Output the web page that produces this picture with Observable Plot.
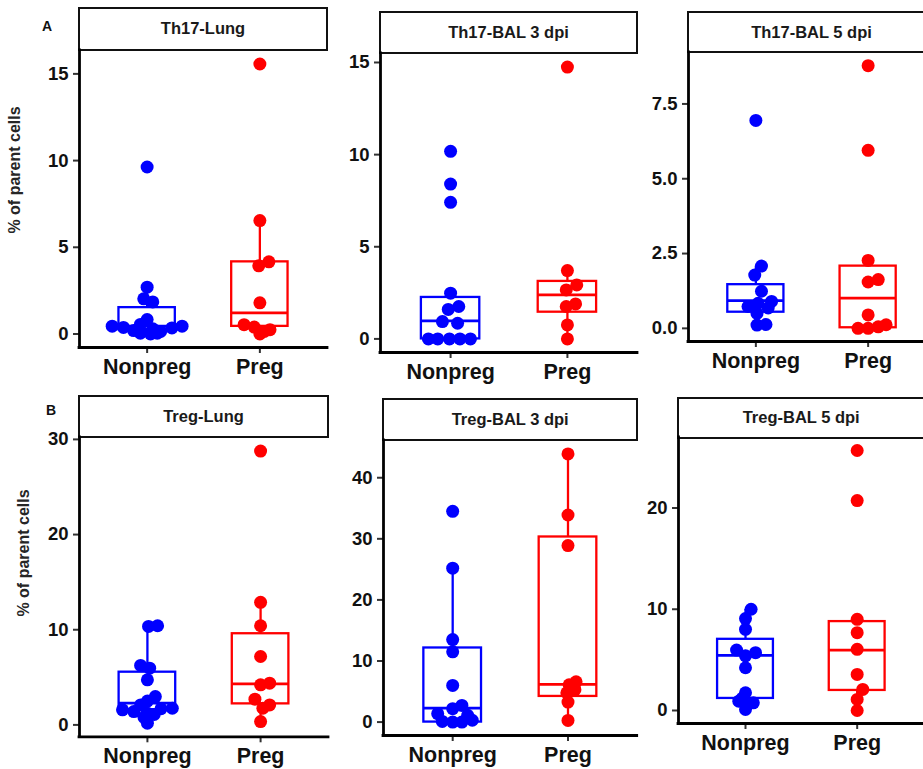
<!DOCTYPE html>
<html><head><meta charset="utf-8">
<script src="https://cdn.jsdelivr.net/npm/d3@7"></script>
<script src="https://cdn.jsdelivr.net/npm/@observablehq/plot@0.6"></script>
<style>
body{margin:0;background:#fff;}
#root{position:relative;width:923px;height:769px;overflow:hidden;font-family:"Liberation Sans",Arial,sans-serif;background:#fff;}
.strip{position:absolute;box-sizing:border-box;border:2.6px solid #111;background:#fff;display:flex;align-items:center;justify-content:center;font-weight:bold;font-size:16.5px;color:#1a1a1a;}
.panel{position:absolute;}
.ytitle{position:absolute;transform:translate(-50%,-50%) rotate(-90deg);white-space:nowrap;font-weight:bold;font-size:16px;color:#262626;}
.tag{position:absolute;transform:translate(-50%,-50%);font-weight:bold;font-size:14px;color:#111;}
</style></head>
<body><div id="root"></div>
<script>
const groups = ["Nonpreg", "Preg"];
const groupColors = ["#0000FF", "#FF0000"];

// Th17-Lung
const th17LungNonpreg    = [9.63, 2.70, 2.03, 1.85, 0.83, 0.55, 0.45, 0.45, 0.38, 0.35, 0.20, 0.15, 0.05, 0.00, 0.05, 0.30];
const th17LungNonpregJit = [0, 0, -0.03, 0.05, 0, -0.06, -0.31, 0.31, -0.21, 0.22, -0.12, 0.12, -0.06, 0.03, 0.09, 0.05];
const th17LungNonpregBox = [0, 0.25, 0.45, 1.52, 2.70];
const th17LungPreg       = [15.57, 6.54, 4.16, 3.93, 1.80, 0.54, 0.40, 0.25, 0.15, 0.00];
const th17LungPregJit    = [0, 0, 0.08, -0.01, 0, -0.14, -0.05, 0.09, 0.04, 0];
const th17LungPregBox    = [0, 0.44, 1.22, 4.16, 6.54];

// Th17-BAL 3 dpi
const th17Bal3Nonpreg    = [10.18, 8.40, 7.41, 2.48, 1.76, 1.60, 0.94, 0.85, 0, 0, 0, 0, 0];
const th17Bal3NonpregJit = [0, 0, 0, 0, 0.07, -0.02, -0.07, 0.06, -0.19, -0.11, -0.01, 0.08, 0.17];
const th17Bal3NonpregBox = [0, 0, 0.98, 2.25, 2.48];
const th17Bal3Preg       = [14.75, 3.71, 2.93, 2.66, 1.90, 1.76, 0.76, 0];
const th17Bal3PregJit    = [0, 0, 0.08, -0.01, 0.07, -0.01, 0, 0];
const th17Bal3PregBox    = [0, 1.45, 2.39, 3.12, 3.71];

// Th17-BAL 5 dpi
const th17Bal5Nonpreg    = [6.95, 2.08, 1.78, 1.24, 0.90, 0.84, 0.73, 0.68, 0.50, 0.11, 0.13];
const th17Bal5NonpregJit = [0, 0.05, -0.01, 0.05, 0.14, 0.02, -0.07, 0.11, 0.01, 0.01, 0.09];
const th17Bal5NonpregBox = [0.11, 0.54, 0.93, 1.46, 2.08];
const th17Bal5Preg       = [8.78, 5.95, 2.27, 1.63, 1.55, 0.45, 0.12, 0.05, 0.00, 0.00];
const th17Bal5PregJit    = [0, 0, 0, 0.09, 0, 0, 0.16, 0.09, 0, -0.09];
const th17Bal5PregBox    = [0, 0.02, 1.01, 2.08, 2.27];

// Treg-Lung
const tregLungNonpreg    = [10.42, 10.35, 6.25, 5.96, 4.74, 2.98, 2.50, 2.10, 1.75, 1.70, 1.58, 1.40, 1.23, 1.10, 0.80, 0.18];
const tregLungNonpregJit = [0.09, 0.01, -0.06, 0.02, 0, 0.07, 0, -0.06, 0.22, 0.12, -0.22, -0.12, 0, 0.06, -0.03, 0];
const tregLungNonpregBox = [0.18, 1.60, 2.28, 5.54, 10.42];
const tregLungPreg       = [28.77, 12.88, 10.42, 7.19, 4.39, 4.21, 2.70, 2.10, 1.75, 0.35];
const tregLungPregJit    = [0, 0, 0, 0, 0.08, 0, -0.05, 0.08, 0.02, 0];
const tregLungPregBox    = [0.35, 2.21, 4.32, 9.58, 12.88];

// Treg-BAL 3 dpi
const tregBal3Nonpreg    = [34.5, 25.2, 13.5, 11.5, 6.0, 2.73, 2.19, 1.37, 1.1, 0.3, 0.1, 0.0, 0.0];
const tregBal3NonpregJit = [0, 0, 0, 0, 0, 0.08, 0, -0.13, 0.13, 0.17, -0.09, 0, 0.08];
const tregBal3NonpregBox = [0, 0, 2.3, 12.13, 25.2];
const tregBal3Preg       = [43.9, 33.9, 28.9, 6.6, 6.1, 5.3, 4.8, 3.28, 0.27];
const tregBal3PregJit    = [0, 0, 0, 0.07, 0.01, 0.06, -0.01, 0, 0];
const tregBal3PregBox    = [0.27, 4.2, 6.17, 30.3, 43.9];

// Treg-BAL 5 dpi
const tregBal5Nonpreg    = [10.0, 9.08, 8.02, 5.97, 5.71, 5.4, 4.22, 1.75, 1.2, 0.92, 0.76, 0.5, 0.1];
const tregBal5NonpregJit = [0.05, 0, 0, -0.08, 0.09, 0, 0, 0, -0.03, -0.06, 0.07, 0.01, 0];
const tregBal5NonpregBox = [0.1, 1.19, 5.45, 7.03, 10.0];
const tregBal5Preg       = [25.68, 20.73, 9.0, 7.69, 6.04, 3.56, 2.08, 1.09, 0.0];
const tregBal5PregJit    = [0, 0, 0, 0, 0, 0, 0.05, 0, 0];
const tregBal5PregBox    = [0, 1.98, 5.97, 8.78, 9.0];

// tick values per panel
const th17LungTicks = [0, 5, 10, 15];
const th17Bal3Ticks = [0, 5, 10, 15];
const th17Bal5Ticks = [0, 2.5, 5, 7.5];
const tregLungTicks = [0, 10, 20, 30];
const tregBal3Ticks = [0, 10, 20, 30, 40];
const tregBal5Ticks = [0, 10, 20];

const titles = ["Th17-Lung", "Th17-BAL 3 dpi", "Th17-BAL 5 dpi", "Treg-Lung", "Treg-BAL 3 dpi", "Treg-BAL 5 dpi"];
const yTitle = "% of parent cells";

const panels = [
  {title: titles[0], vals: [th17LungNonpreg, th17LungPreg], jit: [th17LungNonpregJit, th17LungPregJit], box: [th17LungNonpregBox, th17LungPregBox], ticks: th17LungTicks, fmt: d3.format("d"),
   L: 79, R: 327, T: 50, B: 347, S: 8},
  {title: titles[1], vals: [th17Bal3Nonpreg, th17Bal3Preg], jit: [th17Bal3NonpregJit, th17Bal3PregJit], box: [th17Bal3NonpregBox, th17Bal3PregBox], ticks: th17Bal3Ticks, fmt: d3.format("d"),
   L: 380, R: 637, T: 52.7, B: 351.7, S: 12},
  {title: titles[2], vals: [th17Bal5Nonpreg, th17Bal5Preg], jit: [th17Bal5NonpregJit, th17Bal5PregJit], box: [th17Bal5NonpregBox, th17Bal5PregBox], ticks: th17Bal5Ticks, fmt: d3.format(".1f"),
   L: 688, R: 935, T: 51.7, B: 340.7, S: 12.7},
  {title: titles[3], vals: [tregLungNonpreg, tregLungPreg], jit: [tregLungNonpregJit, tregLungPregJit], box: [tregLungNonpregBox, tregLungPregBox], ticks: tregLungTicks, fmt: d3.format("d"),
   L: 79, R: 328, T: 436.7, B: 736, S: 396},
  {title: titles[4], vals: [tregBal3Nonpreg, tregBal3Preg], jit: [tregBal3NonpregJit, tregBal3PregJit], box: [tregBal3NonpregBox, tregBal3PregBox], ticks: tregBal3Ticks, fmt: d3.format("d"),
   L: 383.3, R: 637, T: 440, B: 735, S: 399.3},
  {title: titles[5], vals: [tregBal5Nonpreg, tregBal5Preg], jit: [tregBal5NonpregJit, tregBal5PregJit], box: [tregBal5NonpregBox, tregBal5PregBox], ticks: tregBal5Ticks, fmt: d3.format("d"),
   L: 678.3, R: 924, T: 437.3, B: 723.3, S: 398.3}
];

const root = document.getElementById("root");
const mL = 60, mR = 8, mT = 8, mB = 46;
const boxHalf = 0.25;

for (const p of panels) {
  // strip
  const s = document.createElement("div");
  s.className = "strip";
  s.style.left = (p.L - 1.3) + "px";
  s.style.top = (p.S - 1.3) + "px";
  s.style.width = (p.R - p.L + 2.6) + "px";
  s.style.height = (p.T - p.S + 2.6) + "px";
  s.textContent = p.title;
  root.appendChild(s);

  const points = [];
  p.vals.forEach((arr, gi) => arr.forEach((v, i) => points.push({g: groups[gi], gi, x: gi + 1 + p.jit[gi][i], y: v})));
  const stats = p.box.map((b, gi) => ({g: groups[gi], gi, x: gi + 1, lo: b[0], q1: b[1], med: b[2], q3: b[3], hi: b[4]}));
  const all = points.map(d => d.y);
  const ymin = d3.min(all), ymax = d3.max(all), pad = (ymax - ymin) * 0.05;
  const y0 = ymin - pad, y1 = ymax + pad;
  const width = (p.R - p.L) + mL + mR;
  const height = (p.B - p.T) + mT + mB;

  const chart = Plot.plot({
    width, height, marginLeft: mL, marginRight: mR, marginTop: mT, marginBottom: mB,
    x: {domain: [0.4, 2.6]},
    y: {domain: [y0, y1]},
    color: {domain: groups, range: groupColors},
    style: {fontFamily: '"Liberation Sans", Arial, sans-serif', fontWeight: "bold", background: "transparent", overflow: "visible"},
    marks: [
      Plot.axisY({ticks: p.ticks, tickFormat: p.fmt, tickSize: 6, tickPadding: 5, fontSize: 18.5, fontWeight: "bold", fill: "#111", stroke: "#333", strokeWidth: 2, label: null}),
      Plot.axisX({ticks: [1, 2], tickFormat: d => groups[d - 1], tickSize: 6, tickPadding: 5, fontSize: 21.5, fontWeight: "bold", fill: "#111", stroke: "#333", strokeWidth: 2, label: null}),
      Plot.ruleX(stats, {x: "x", y1: "q3", y2: "hi", stroke: "g", strokeWidth: 2.3}),
      Plot.ruleX(stats, {x: "x", y1: "lo", y2: "q1", stroke: "g", strokeWidth: 2.3}),
      Plot.rect(stats, {x1: d => d.x - boxHalf, x2: d => d.x + boxHalf, y1: "q1", y2: "q3", fill: "white", stroke: "g", strokeWidth: 2.3}),
      Plot.ruleY(stats, {x1: d => d.x - boxHalf, x2: d => d.x + boxHalf, y: "med", stroke: "g", strokeWidth: 2.8}),
      Plot.dot(points, {x: "x", y: "y", r: 6.5, fill: "g", stroke: null}),
      Plot.ruleX([0.4], {stroke: "#000", strokeWidth: 2.8, strokeLinecap: "square"}),
      Plot.ruleY([y0], {stroke: "#000", strokeWidth: 2.8, strokeLinecap: "square"})
    ]
  });
  chart.classList.add("panel");
  chart.style.left = (p.L - mL) + "px";
  chart.style.top = (p.T - mT) + "px";
  root.appendChild(chart);
}

// y titles and panel tags
function addDiv(cls, text, x, y) {
  const d = document.createElement("div");
  d.className = cls; d.textContent = text;
  d.style.left = x + "px"; d.style.top = y + "px";
  root.appendChild(d);
}
addDiv("ytitle", yTitle, 15, 170);
addDiv("ytitle", yTitle, 24, 553);
addDiv("tag", "A", 47, 26);
addDiv("tag", "B", 51, 410);
</script>
</body></html>
